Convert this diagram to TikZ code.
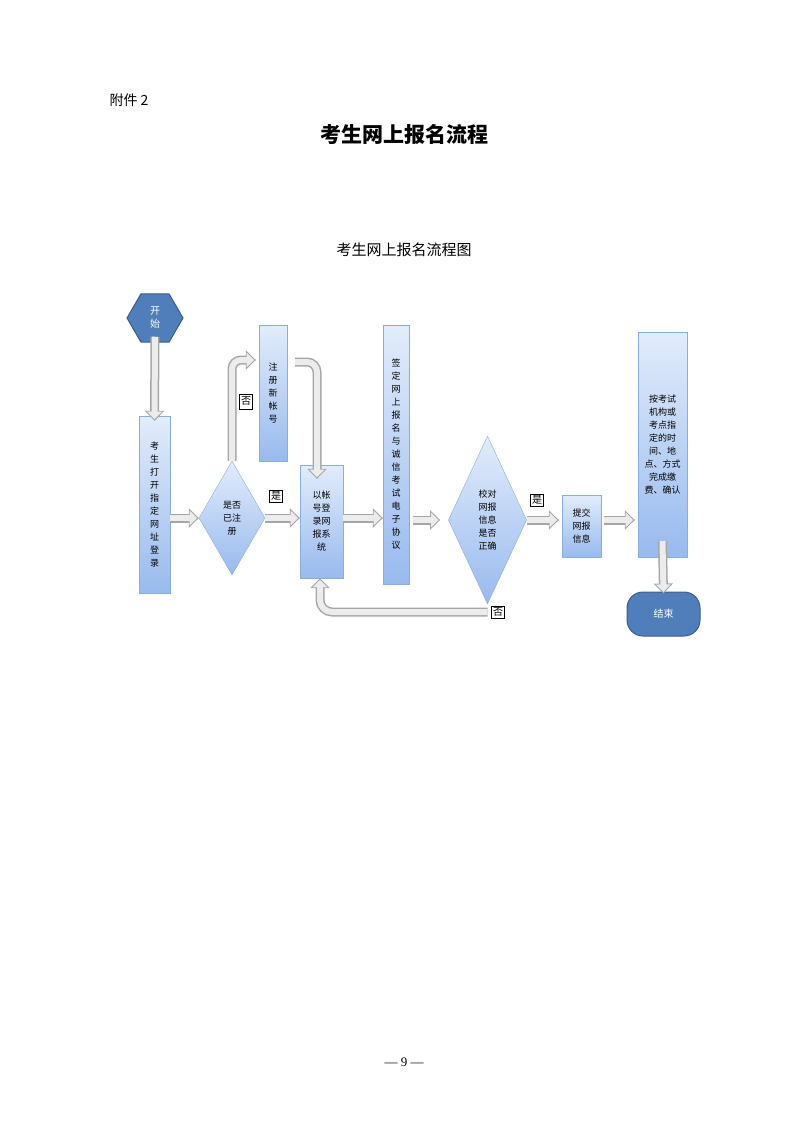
\documentclass[tikz,border=0pt]{standalone}
\usepackage{fontspec}
\setmainfont{Liberation Serif}
\newfontfamily\cjk{Noto Sans CJK SC}
\usetikzlibrary{arrows.meta,shapes.geometric}
\definecolor{bbord}{HTML}{8AAEDC}
\definecolor{btop}{HTML}{E2ECFB}
\definecolor{bbot}{HTML}{98BAEE}
\definecolor{dblue}{HTML}{4F7EBB}
\definecolor{dedge}{HTML}{3A5E8C}
\tikzset{
  x=1pt,y=-1pt,
  box/.style={draw=bbord,top color=btop,bottom color=bbot,inner sep=0pt,align=center,font=\cjk\fontsize{9}{13}\selectfont},
  dia/.style={box,diamond},
  dark/.style={draw=dedge,line width=1pt,fill=dblue,text=white,font=\cjk\fontsize{10}{13}\selectfont,align=center,inner sep=0pt},
  lab/.style={draw=black,fill=white,inner sep=1.5pt,font=\cjk\fontsize{10}{12}\selectfont},
  blk/.style={preaction={draw=gray!70,line width=9pt,shorten >=0pt,-{Triangle[length=10pt,width=19pt]}},
    draw=gray!15,line width=6pt,shorten >=1.6pt,-{Triangle[length=7.5pt,width=14.5pt]}},
}
\begin{document}
\begin{tikzpicture}
\useasboundingbox (0,0) rectangle (800,1131);
\node[anchor=west,font=\cjk\fontsize{14}{16}\selectfont] (att) at (106,100) {附件 2};
\node[font=\cjk\bfseries\fontsize{21}{24}\selectfont] (title) at (404,135) {考生网上报名流程};
\node[font=\cjk\fontsize{15}{18}\selectfont] (sub) at (404,250) {考生网上报名流程图};
\node[font=\fontsize{13}{15}\selectfont] (pg) at (404,1062) {— 9 —};

\node[dark,regular polygon,regular polygon sides=6,minimum size=56pt] (start) at (155,318) {开\\始};
\node[box,minimum width=31pt,minimum height=177pt] (b1) at (154.5,504.5) {考\\生\\打\\开\\指\\定\\网\\址\\登\\录};
\node[dia,minimum width=66pt,minimum height=114pt] (d1) at (232,518) {是否\\已注\\册};
\node[box,minimum width=28pt,minimum height=136pt] (b2) at (273,393) {注\\册\\新\\帐\\号};
\node[box,minimum width=43pt,minimum height=113pt] (b3) at (321.5,521.5) {以帐\\号登\\录网\\报系\\统};
\node[box,minimum width=26pt,minimum height=259pt] (b4) at (396,454.5) {签\\定\\网\\上\\报\\名\\与\\诚\\信\\考\\试\\电\\子\\协\\议};
\node[dia,minimum width=74pt,minimum height=168pt] (d2) at (487.5,520) {校对\\网报\\信息\\是否\\正确};
\node[box,minimum width=39pt,minimum height=62pt] (b5) at (581.5,526) {提交\\网报\\信息};
\node[box,minimum width=49pt,minimum height=225pt] (b6) at (662.5,444.5) {按考试\\机构或\\考点指\\定的时\\间、地\\点、方式\\完成缴\\费、确认};
\node[dark,rounded corners=16pt,minimum width=73pt,minimum height=44pt] (end) at (663.5,614) {结束};

\coordinate (u1) at (232,360);
\coordinate (u2) at (317,362);
\coordinate (r1) at (320,612);

\path[blk] ([yshift=6]start.south) -- ([yshift=-5]b1.north);
\path[blk] (b1.east|-d1) -- (d1.west);
\path[blk] (d1.east) -- (b3.west|-d1);
\path[blk,rounded corners=9pt] (d1.north) -- (u1) -- ([xshift=-3]b2.west|-u1);
\path[blk,rounded corners=10pt] ([xshift=8]b2.east|-u2) -- (u2) -- ([yshift=-14]b3.north-|u2);
\path[blk] (b3.east|-d1) -- (b4.west|-d1);
\path[blk] ([xshift=4]b4.east|-d2) -- ([xshift=-8]d2.west);
\path[blk] (d2.east) -- ([xshift=-3]b5.west|-d2);
\path[blk] ([xshift=3]b5.east|-d2) -- ([xshift=-3]b6.west|-d2);
\path[blk] ([yshift=16]b6.south) -- ([yshift=-2]end.north);
\path[blk,rounded corners=12pt] (d2.south|-r1) -- (r1) -- (b3.south-|r1);

\node[lab] (no1) at (246,402) {否\\[2pt]\strut};
\node[lab] (yes1) at (276,496) {是};
\node[lab] (yes2) at (537,500) {是};
\node[lab] (no2) at (498,612) {否};
\end{tikzpicture}
\end{document}
